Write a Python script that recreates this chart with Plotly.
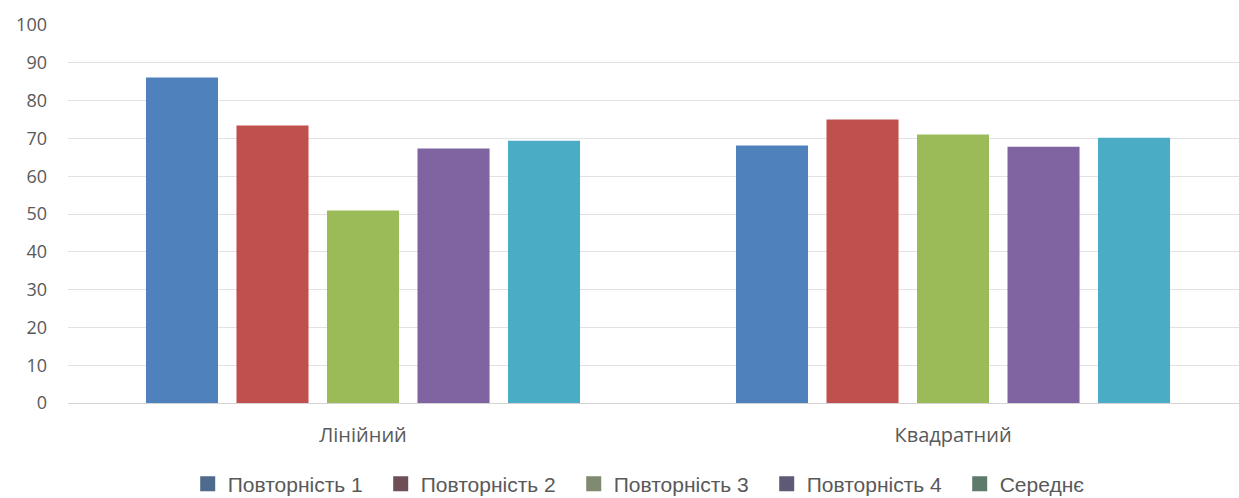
import plotly.graph_objects as go

# Data
categories = ["Лінійний", "Квадратний"]
series_names = ["Повторність 1", "Повторність 2", "Повторність 3", "Повторність 4", "Середнє"]
rep1 = [86.1, 68.1]
rep2 = [73.4, 75.0]
rep3 = [50.9, 71.0]
rep4 = [67.3, 67.8]
mean = [69.4, 70.2]
y_ticks = [0, 10, 20, 30, 40, 50, 60, 70, 80, 90, 100]

bar_colors = ["#4F81BD", "#C0504D", "#9BBB59", "#8064A2", "#4BACC6"]
legend_colors = ["#4E6A8C", "#6F4F56", "#7F8A70", "#5E5A76", "#5E7A6B"]

fig = go.Figure()
for name, vals, col in zip(series_names, [rep1, rep2, rep3, rep4, mean], bar_colors):
    fig.add_trace(go.Bar(x=categories, y=vals, name=name, marker_color=col,
                         marker_line_width=0, showlegend=False))

# Legend entries
for name, col in zip(series_names, legend_colors):
    fig.add_trace(go.Scatter(x=[None], y=[None], mode="markers", name=name,
                             marker=dict(symbol="square", size=15, color=col),
                             showlegend=True))

text_col = "#595959"
fig.update_layout(
    width=1239, height=498,
    margin=dict(l=68, r=0, t=25, b=95, autoexpand=False),
    paper_bgcolor="white", plot_bgcolor="white",
    barmode="group", bargap=0.233, bargroupgap=0.204,
    font=dict(family="Open Sans, sans-serif", color=text_col),
    legend=dict(orientation="h", x=0.1515, xanchor="left", xref="container",
                y=0.028, yanchor="middle", yref="container",
                font=dict(size=21, color=text_col, family="Liberation Sans, Arial, sans-serif"),
                itemwidth=30, tracegroupgap=0, traceorder="normal",
                entrywidth=148, entrywidthmode="pixels"),
    xaxis=dict(type="category", range=[-0.5, 1.4847], showgrid=False,
               showline=True, linecolor="#D4D4D4", linewidth=1,
               ticks="", ticklabelstandoff=14, tickfont=dict(size=20, color=text_col)),
    yaxis=dict(range=[0, 100], tickvals=y_ticks, showgrid=True, gridcolor="#E2E2E2",
               gridwidth=1, zeroline=False, showline=False, ticks="",
               ticklabelstandoff=20, tickfont=dict(size=18, color=text_col)),
)

fig.write_html("out.html")
